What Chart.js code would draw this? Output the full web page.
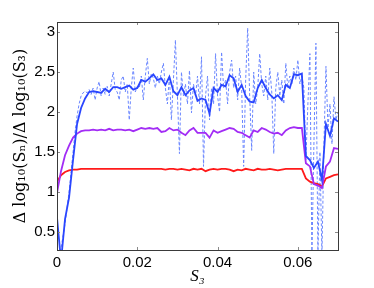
<!DOCTYPE html>
<html>
<head>
<meta charset="utf-8">
<script src="https://cdn.jsdelivr.net/npm/chart.js@4"></script>
<style>
    html, body { margin: 0; padding: 0; background: #fff; }
    #wrap { width: 374px; height: 288px; }
</style>
</head>
<body>
<div id="wrap"><canvas id="chart"></canvas></div>
<script>
// tick positions
const xTicks = [0, 0.02, 0.04, 0.06];
const yTicks = [0.5, 1, 1.5, 2, 2.5, 3];

// S3 spacing of the smooth curves and of the raw (dashed) curve
const stepSmooth = 0.001;
const stepRaw = 0.0005;

// smoothed blue curve
const blueSmooth = [
    0.68, 0.14, 0.66, 0.93, 1.40, 1.85, 2.05, 2.17, 2.25, 2.26,
    2.25, 2.24, 2.29, 2.25, 2.31, 2.31, 2.29, 2.31, 2.33, 2.28,
    2.30, 2.40, 2.38, 2.42, 2.47, 2.40, 2.42, 2.34, 2.44, 2.26,
    2.21, 2.31, 2.21, 2.27, 2.30, 2.14, 2.17, 2.15, 1.98, 2.30,
    2.25, 2.34, 2.32, 2.46, 2.42, 2.25, 2.34, 2.20, 2.13, 2.12,
    2.30, 2.40, 2.30, 2.22, 2.17, 2.21, 2.15, 2.34, 2.30, 2.47,
    2.46, 2.48, 1.45, 1.40, 1.30, 1.38, 1.15, 1.85, 1.70, 1.92,
    1.88
];

const purpleLine = [
    0.99, 1.26, 1.46, 1.58, 1.68, 1.73, 1.76, 1.77, 1.77, 1.78,
    1.77, 1.78, 1.77, 1.79, 1.77, 1.78, 1.78, 1.77, 1.78, 1.76,
    1.78, 1.80, 1.79, 1.80, 1.79, 1.80, 1.75, 1.76, 1.80, 1.77,
    1.78, 1.74, 1.71, 1.77, 1.80, 1.74, 1.74, 1.74, 1.68, 1.77,
    1.74, 1.76, 1.78, 1.80, 1.79, 1.75, 1.74, 1.71, 1.68, 1.77,
    1.75, 1.80, 1.78, 1.75, 1.73, 1.74, 1.71, 1.77, 1.80, 1.81,
    1.80, 1.80, 1.36, 1.32, 1.10, 1.08, 1.05, 1.32, 1.38, 1.55,
    1.54
];

const redLine = [
    1.13, 1.21, 1.25, 1.27, 1.28, 1.28, 1.29, 1.29, 1.29, 1.29,
    1.29, 1.29, 1.29, 1.29, 1.29, 1.29, 1.29, 1.29, 1.29, 1.29,
    1.29, 1.29, 1.29, 1.29, 1.29, 1.29, 1.29, 1.28, 1.29, 1.29,
    1.28, 1.29, 1.28, 1.27, 1.29, 1.28, 1.29, 1.26, 1.28, 1.29,
    1.28, 1.29, 1.29, 1.28, 1.26, 1.28, 1.27, 1.29, 1.28, 1.27,
    1.29, 1.28, 1.28, 1.29, 1.28, 1.27, 1.28, 1.29, 1.29, 1.29,
    1.29, 1.29, 1.17, 1.13, 1.11, 1.10, 1.07, 1.17, 1.19, 1.21,
    1.22
];

// raw blue values (dashed)
const blueRaw = [
    0.20, 0.22, 0.30, 0.45, 0.60, 0.80, 1.00, 1.25, 1.50, 1.75,
    1.95, 2.10, 2.20, 2.24, 2.26, 2.24, 2.28, 2.22, 2.30, 2.15,
    2.30, 2.38, 2.20, 2.30, 2.22, 2.32, 2.20, 2.35, 2.50, 2.28,
    2.25, 2.15, 2.40, 2.45, 2.25, 2.35, 1.90, 2.30, 2.55, 2.25,
    2.32, 2.30, 2.45, 2.15, 2.45, 2.67, 2.35, 2.48, 2.42, 2.30,
    2.45, 2.35, 2.50, 2.61, 2.30, 2.10, 2.45, 1.90, 2.40, 2.90,
    2.20, 1.48, 2.50, 2.20, 2.35, 2.10, 2.52, 1.99, 2.35, 2.20,
    2.45, 2.10, 2.69, 1.32, 2.20, 2.45, 1.90, 2.30, 2.10, 2.73,
    2.20, 2.00, 2.75, 2.30, 2.40, 2.10, 2.50, 2.65, 2.30, 2.45,
    2.15, 2.55, 2.30, 1.32, 2.40, 3.05, 2.20, 1.52, 2.50, 2.10,
    2.30, 2.73, 2.35, 2.20, 2.45, 2.15, 2.55, 2.25, 1.48, 2.30,
    2.50, 2.20, 2.40, 2.10, 2.61, 2.30, 2.45, 2.35, 2.55, 2.40,
    2.65, 2.35, 2.45, 2.30, 1.40, 2.10, 2.73, 0.20, 1.60, 2.86,
    0.20, 1.50, 0.20, 1.60, 2.57, 1.80, 2.10, 1.60, 2.19, 1.90,
    2.00
];

function toPoints(values, dx) {
    return values.map(function (v, i) {
        return { x: +(i * dx).toFixed(5), y: v };
    });
}

const tickFont = { family: "'Liberation Sans', Arial, sans-serif", size: 15 };

// box round the plot with short inward ticks, as in the original figure
const boxTicks = {
    id: "boxTicks",
    afterDatasetsDraw(chart) {
        const ctx = chart.ctx;
        const a = chart.chartArea;
        const sx = chart.scales.x;
        const sy = chart.scales.y;
        ctx.save();
        ctx.strokeStyle = "#8a8a8a";
        ctx.lineWidth = 1;
        ctx.beginPath();
        xTicks.forEach(function (v) {
            const px = Math.round(sx.getPixelForValue(v)) + 0.5;
            ctx.moveTo(px, a.bottom); ctx.lineTo(px, a.bottom - 3);
            ctx.moveTo(px, a.top); ctx.lineTo(px, a.top + 3);
        });
        yTicks.forEach(function (v) {
            const py = Math.round(sy.getPixelForValue(v)) + 0.5;
            ctx.moveTo(a.left, py); ctx.lineTo(a.left + 3, py);
            ctx.moveTo(a.right, py); ctx.lineTo(a.right - 3, py);
        });
        ctx.stroke();
        ctx.strokeStyle = "#3a3a3a";
        ctx.strokeRect(Math.round(a.left) + 0.5, Math.round(a.top) + 0.5,
            Math.round(a.right - a.left), Math.round(a.bottom - a.top));
        ctx.restore();
    },
};

new Chart(document.getElementById("chart"), {
    type: "line",
    data: {
        datasets: [
            {
                label: "smooth",
                data: toPoints(blueSmooth, stepSmooth),
                borderColor: "#2a46ff",
                borderWidth: 1.8,
            },
            {
                label: "purple",
                data: toPoints(purpleLine, stepSmooth),
                borderColor: "#a22cf5",
                borderWidth: 1.8,
            },
            {
                label: "red",
                data: toPoints(redLine, stepSmooth),
                borderColor: "#ff1a1a",
                borderWidth: 1.8,
            },
            {
                label: "raw",
                data: toPoints(blueRaw, stepRaw),
                borderColor: "#6a86ff",
                borderWidth: 1,
                borderDash: [3, 2],
            },
        ],
    },
    options: {
        responsive: true,
        maintainAspectRatio: false,
        animation: false,
        layout: { padding: { top: 22, right: 36, left: 0, bottom: 0 } },
        elements: {
            point: { radius: 0 },
            line: { tension: 0, fill: false },
        },
        plugins: {
            legend: { display: false },
            tooltip: { enabled: false },
        },
        scales: {
            x: {
                type: "linear",
                min: 0,
                max: 0.07,
                grid: { display: false, drawTicks: false },
                border: { display: false },
                afterBuildTicks: function (scale) {
                    scale.ticks = xTicks.map(function (v) { return { value: v }; });
                },
                afterFit: function (scale) { scale.height = 38; },
                ticks: {
                    font: tickFont,
                    color: "#000",
                    padding: 4,
                    maxRotation: 0,
                    callback: function (v) { return String(v); },
                },
                title: {
                    display: true,
                    text: "S\u2083",
                    font: { family: "'Liberation Serif', 'DejaVu Serif', serif", size: 17, style: "italic" },
                    color: "#000",
                    padding: { top: 0, bottom: 1 },
                },
            },
            y: {
                min: 0.275,
                max: 3.125,
                grid: { display: false, drawTicks: false },
                border: { display: false },
                afterBuildTicks: function (scale) {
                    scale.ticks = yTicks.map(function (v) { return { value: v }; });
                },
                afterFit: function (scale) { scale.width = 57; },
                ticks: {
                    font: tickFont,
                    color: "#000",
                    padding: 2,
                    callback: function (v) { return String(v); },
                },
                title: {
                    display: true,
                    text: "\u0394 log\u2081\u2080(S\u2099)/\u0394 log\u2081\u2080(S\u2083)",
                    font: { family: "'DejaVu Serif', 'Liberation Serif', serif", size: 16 },
                    color: "#000",
                    padding: { top: 11, bottom: 0 },
                },
            },
        },
    },
    plugins: [boxTicks],
});
</script>
</body>
</html>
